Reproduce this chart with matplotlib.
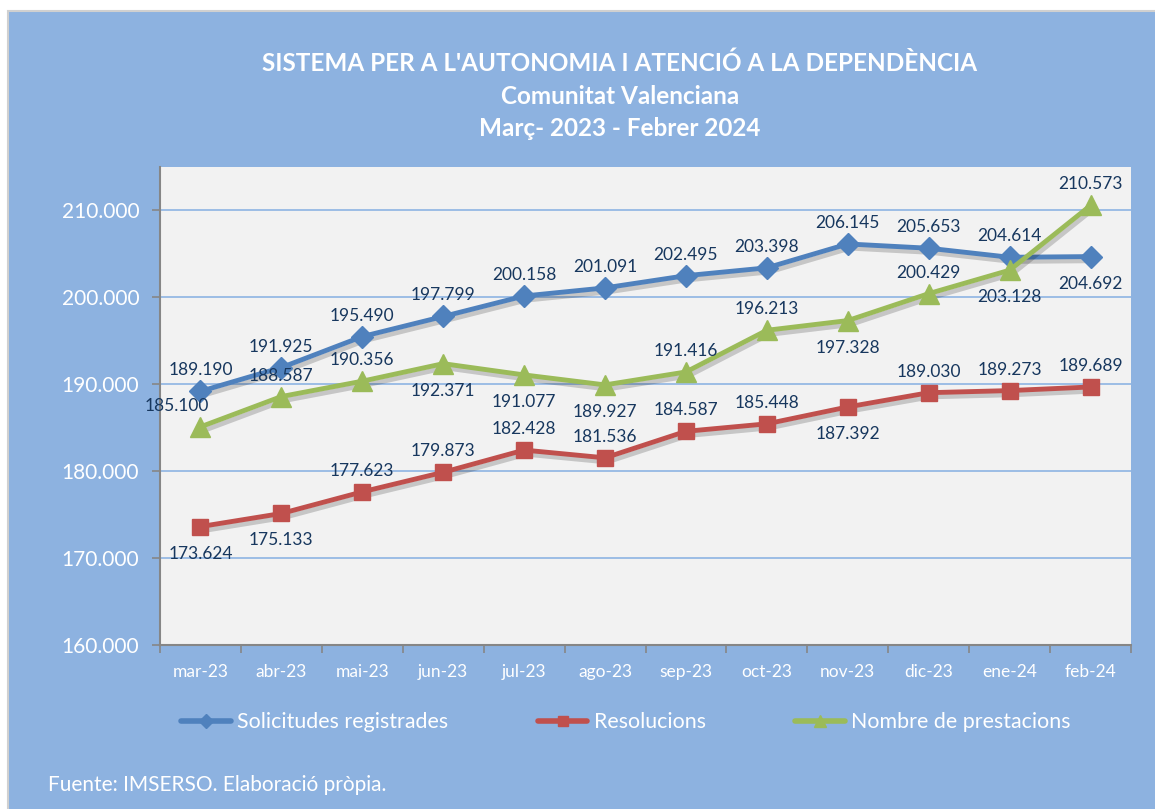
import matplotlib
matplotlib.use("Agg")
import matplotlib.pyplot as plt
import matplotlib.patheffects as pe
from matplotlib.patches import Rectangle
from matplotlib.lines import Line2D

meses = ["mar-23", "abr-23", "mai-23", "jun-23", "jul-23", "ago-23",
         "sep-23", "oct-23", "nov-23", "dic-23", "ene-24", "feb-24"]
solicitudes = [189190, 191925, 195490, 197799, 200158, 201091,
               202495, 203398, 206145, 205653, 204614, 204692]
resolucions = [173624, 175133, 177623, 179873, 182428, 181536,
               184587, 185448, 187392, 189030, 189273, 189689]
prestacions = [185100, 188587, 190356, 192371, 191077, 189927,
               191416, 196213, 197328, 200429, 203128, 210573]
# posicio de cada etiqueta: 1 = dalt, -1 = baix
pos_sol = [1, 1, 1, 1, 1, 1, 1, 1, 1, 1, 1, -1]
pos_res = [-1, -1, 1, 1, 1, 1, 1, 1, -1, 1, 1, 1]
pos_pre = [1, 1, 1, -1, -1, -1, 1, 1, -1, 1, -1, 1]

plt.rcParams['font.family'] = ['Lato', 'DejaVu Sans']

fons = "#8DB2E0"
fig = plt.figure(figsize=(11.55, 8.09), dpi=100, facecolor="white")
fig.patches.append(Rectangle((8/1155, -0.01), 1.0, 1 - 11/809 + 0.01,
                             transform=fig.transFigure, facecolor=fons,
                             edgecolor="#D0D0D0", lw=1.5, zorder=-1))

ax = fig.add_axes([160/1155, 1 - 645/809, 971/1155, 478/809])
ax.set_facecolor("#F2F2F2")

def fmt(v):
    return "{:,}".format(v).replace(",", ".")

x = list(range(len(meses)))
series = [
    (solicitudes, "#4F81BD", "D", 11, "Solicitudes registrades", pos_sol),
    (resolucions, "#C0504D", "s", 12, "Resolucions", pos_res),
    (prestacions, "#9BBB59", "^", 14, "Nombre de prestacions", pos_pre),
]
sombra = [pe.SimpleLineShadow(offset=(1.5, -3), alpha=0.18, shadow_color="black"), pe.Normal()]
handles = []
for vals, col, mk, ms, nom, pos in series:
    ax.plot(x, vals, color=col, lw=3.5, path_effects=sombra, solid_capstyle="round")
    ax.plot(x, vals, color=col, lw=0, marker=mk, markersize=ms,
            markeredgecolor=col)
    handles.append(Line2D([], [], color=col, lw=4, marker=mk, markersize=ms * 0.65,
                          solid_capstyle="round", label=nom))
    for i, (v, p) in enumerate(zip(vals, pos)):
        dx = 0
        if vals is prestacions and i == 0:
            dx = -24
        dy = 21 if p > 0 else -27
        ax.annotate(fmt(v), (i, v), xytext=(dx, dy), textcoords="offset pixels",
                    ha="center", va="center", fontsize=12.5, color="#17375E")

ax.set_xlim(-0.5, 11.5)
ax.set_ylim(160000, 215000)
ax.set_yticks(range(160000, 210001, 10000))
ax.set_yticklabels([fmt(v) for v in range(160000, 210001, 10000)])
ax.yaxis.grid(True, color="#8EB4E3", lw=1.2)
ax.set_axisbelow(True)
ax.set_xticks(x)
ax.set_xticklabels(meses)
ax.set_xticks([i - 0.5 for i in range(13)], minor=True)
ax.tick_params(axis="x", which="major", length=0, pad=14, labelsize=12.5, labelcolor="white")
ax.tick_params(axis="x", which="minor", length=6, color="#868686", width=1.2)
ax.tick_params(axis="y", length=6, color="#868686", width=1.2, pad=9,
               labelsize=15, labelcolor="white")
for s in ["top", "right"]:
    ax.spines[s].set_visible(False)
for s in ["left", "bottom"]:
    ax.spines[s].set_color("#868686")
    ax.spines[s].set_linewidth(1.5)

for yy, txt in [(63, "SISTEMA PER A L'AUTONOMIA I ATENCIÓ A LA DEPENDÈNCIA"),
                (97, "Comunitat Valenciana"),
                (129, "Març- 2023 - Febrer 2024")]:
    fig.text(620/1155, 1 - yy/809, txt, ha="center", va="center",
             color="white", fontsize=17.5, fontweight="bold")

fig.legend(handles=handles, loc="center", bbox_to_anchor=(0.542, 1 - 722/809), ncol=3,
           frameon=False, fontsize=15.4, labelcolor="white",
           handlelength=2.3, handletextpad=0.3, columnspacing=4.2)

fig.text(48/1155, 1 - 785/809, "Fuente: IMSERSO. Elaboració pròpia.",
         ha="left", va="center", color="white", fontsize=15)

fig.savefig("out.png", dpi=100, facecolor=fig.get_facecolor())
